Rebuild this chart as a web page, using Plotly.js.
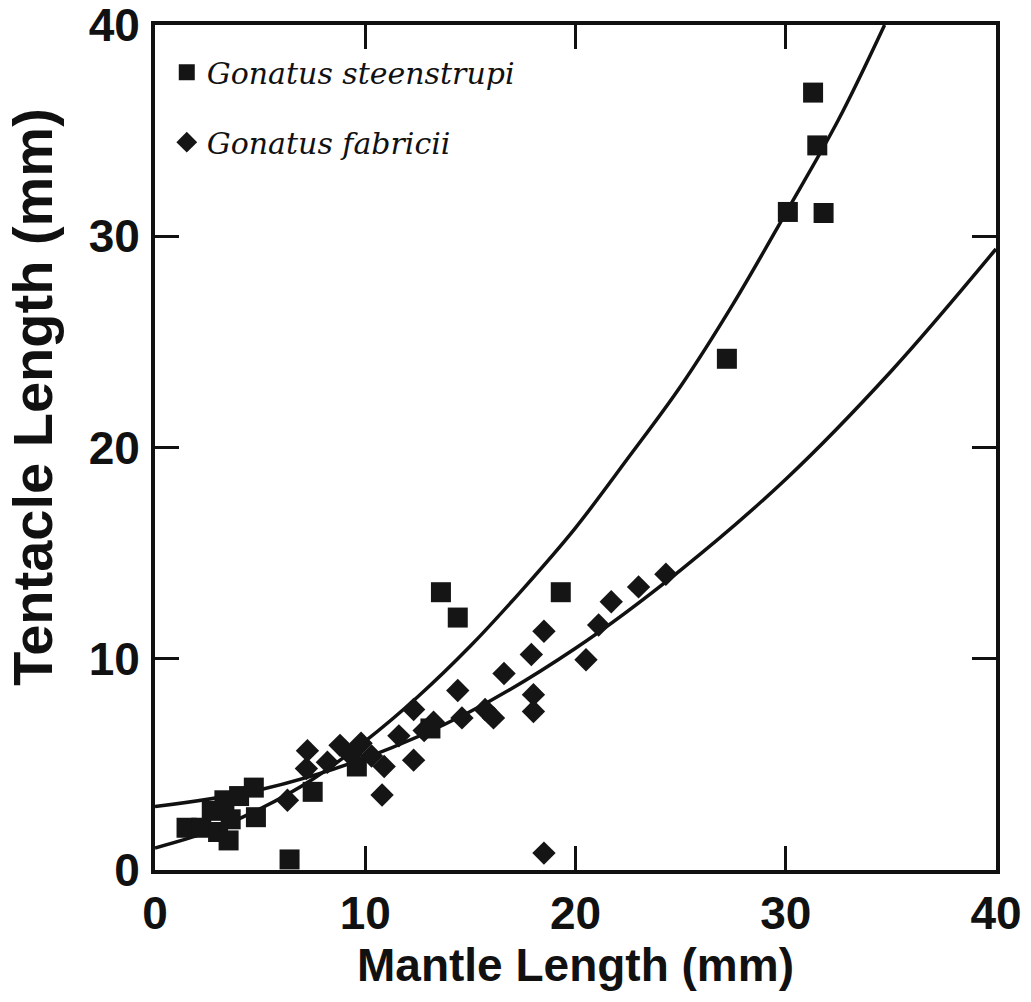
<!DOCTYPE html>
<html>
<head>
<meta charset="utf-8">
<script src="https://cdn.plot.ly/plotly-3.0.1.min.js"></script>
<style>html,body{margin:0;padding:0;background:#fff;}#chart{width:1031px;height:1002px;}</style>
</head>
<body>
<div id="chart"></div>
<script>
// Gonatus steenstrupi (squares)
const steenX = [1.5, 2.2, 2.7, 3.0, 3.3, 3.5, 3.6, 4.0, 4.7, 4.8, 6.4, 7.5, 9.6, 13.1, 13.6, 14.4, 19.3, 27.2, 30.1, 31.3, 31.5, 31.8];
const steenY = [2.0, 2.0, 2.8, 1.8, 3.3, 1.4, 2.4, 3.5, 3.9, 2.5, 0.5, 3.7, 4.9, 6.7, 13.15, 11.95, 13.15, 24.2, 31.15, 36.8, 34.3, 31.1];
// Gonatus fabricii (diamonds)
const fabX = [6.3, 7.2, 7.25, 8.2, 8.8, 9.3, 9.8, 10.3, 10.9, 10.8, 11.6, 12.3, 12.3, 12.8, 13.25, 14.4, 14.6, 15.7, 16.1, 16.6, 17.9, 18.0, 18.0, 18.5, 18.5, 20.5, 21.1, 21.7, 23.0, 24.3];
const fabY = [3.3, 4.8, 5.65, 5.1, 5.9, 5.45, 6.0, 5.4, 4.9, 3.55, 6.35, 5.2, 7.6, 6.6, 7.0, 8.5, 7.2, 7.6, 7.2, 9.3, 10.2, 8.3, 7.5, 11.3, 0.8, 9.95, 11.6, 12.7, 13.4, 14.0];
// fitted curves
const steenCurveX = [0, 2.5, 5, 7.5, 10, 12.5, 15, 17.5, 20, 22.5, 25, 27.5, 30, 32.5, 34.7];
const steenCurveY = [1.04, 1.8, 2.9, 4.3, 6.1, 8.2, 10.6, 13.3, 16.2, 19.5, 22.9, 26.8, 31.1, 35.5, 40];
const fabCurveX = [0, 5, 10, 15, 20, 25, 30, 35, 40];
const fabCurveY = [3.0, 3.8, 5.3, 7.5, 10.5, 14.2, 18.5, 23.6, 29.4];

const data = [
  {x: steenCurveX, y: steenCurveY, mode: 'lines', line: {color: '#111', width: 3.5, shape: 'spline'}, showlegend: false, hoverinfo: 'skip'},
  {x: fabCurveX, y: fabCurveY, mode: 'lines', line: {color: '#111', width: 3.5, shape: 'spline'}, showlegend: false, hoverinfo: 'skip'},
  {x: steenX, y: steenY, mode: 'markers', name: '<i>Gonatus steenstrupi</i>', legendgroup: 'a',
   marker: {symbol: 'square', size: 20, color: '#151515'}},
  {x: fabX, y: fabY, mode: 'markers', name: '<i>Gonatus fabricii</i>', legendgroup: 'b',
   marker: {symbol: 'diamond', size: 18, color: '#151515'}}
];

const axisCommon = {
  range: [0, 40], dtick: 10, showgrid: false, zeroline: false,
  showline: true, linecolor: '#111', linewidth: 4, mirror: 'ticks',
  ticks: 'inside', ticklen: 24, tickwidth: 3, tickcolor: '#111',
  ticklabeloverflow: 'allow',
  tickfont: {family: 'Liberation Sans, Arial, sans-serif', size: 46, color: '#111', weight: 'bold'}
};

const layout = {
  width: 1031, height: 1002,
  margin: {l: 155, r: 35, t: 25, b: 132},
  paper_bgcolor: '#fff', plot_bgcolor: '#fff',
  xaxis: Object.assign({}, axisCommon, {
    title: {text: 'Mantle Length (mm)', standoff: 10, font: {family: 'Liberation Sans, Arial, sans-serif', size: 46, color: '#111', weight: 'bold'}}
  }),
  yaxis: Object.assign({}, axisCommon, {ticklabelstandoff: 2}),
  annotations: [{
    text: 'Tentacle Length (mm)', xref: 'paper', yref: 'paper',
    x: -0.145, y: 0.56, xanchor: 'center', yanchor: 'middle', textangle: -90, showarrow: false,
    font: {family: 'Liberation Sans, Arial, sans-serif', size: 56, color: '#111', weight: 'bold'}
  }],
  legend: {
    x: 0.014, y: 0.975, xanchor: 'left', yanchor: 'top',
    bgcolor: 'rgba(255,255,255,0)', borderwidth: 0,
    traceorder: 'grouped', tracegroupgap: 28,
    font: {family: 'DejaVu Serif, serif', size: 30, color: '#111'}
  },
  showlegend: true
};

Plotly.newPlot('chart', data, layout, {displayModeBar: false, staticPlot: true});
</script>
</body>
</html>
